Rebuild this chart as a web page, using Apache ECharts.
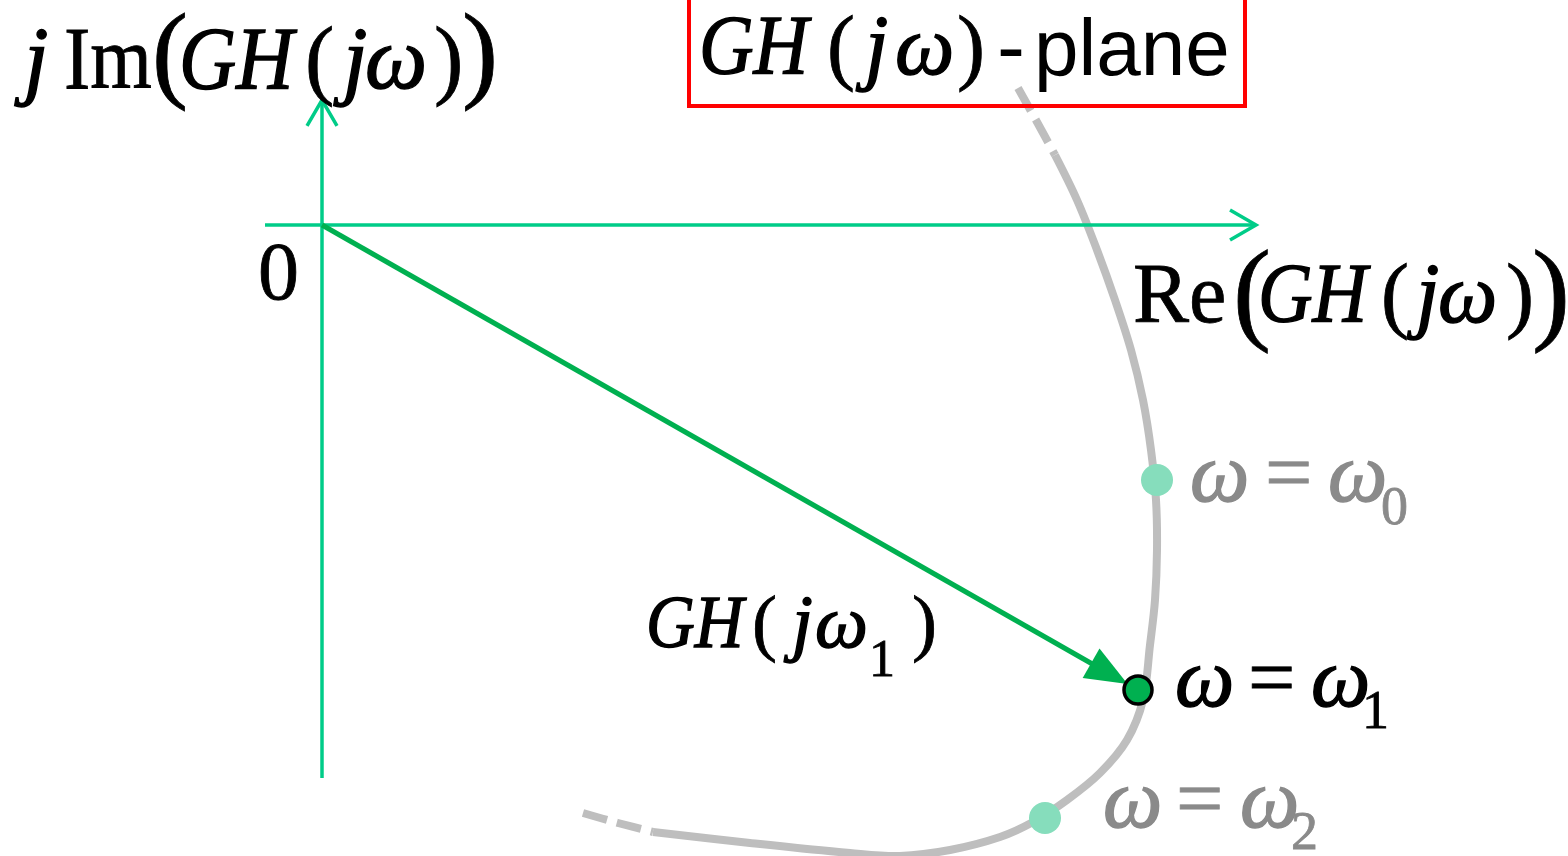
<!DOCTYPE html>
<html>
<head>
<meta charset="utf-8">
<script src="https://cdn.jsdelivr.net/npm/echarts@6/dist/echarts.min.js"></script>
<style>
  html, body { margin: 0; padding: 0; background: #ffffff; }
  #chart { width: 1568px; height: 856px; }
</style>
</head>
<body>
<div id="chart"></div>
<script>
// Polar (Nyquist-style) sketch of GH(jω) in the complex plane.

// Dashed lead-in of the locus at the top
const topDashRe = [6.96, 7.15, 7.33];
const topDashIm = [1.37, 1.03, 0.70];

// Solid part of the GH(jω) locus
const curveRe = [7.33, 7.55, 7.75, 7.93, 8.09, 8.21, 8.29, 8.34, 8.35, 8.33, 8.28, 8.21, 8.05, 7.78, 7.45, 7.11, 6.78, 6.28, 5.78, 5.28, 4.28, 3.31];
const curveIm = [0.70, 0.25, -0.25, -0.75, -1.25, -1.75, -2.25, -2.75, -3.25, -3.75, -4.20, -4.75, -5.15, -5.48, -5.75, -5.97, -6.12, -6.25, -6.31, -6.28, -6.18, -6.07];

// Dashed tail of the locus at the bottom
const bottomDashRe = [2.61, 2.96, 3.31];
const bottomDashIm = [-5.88, -5.98, -6.07];

// Marked frequencies on the locus
const freqNames = ['ω0', 'ω1', 'ω2'];
const freqRe = [8.35, 8.16, 7.23];
const freqIm = [-2.55, -4.65, -5.93];

// Drawn extent of the Re and Im axes
const axisRe = [-0.57, 9.34];
const axisIm = [-5.53, 1.25];

const zip = (a, b) => a.map((v, i) => [v, b[i]]);

const AXIS_COLOR = '#00CC88';
const VECTOR_COLOR = '#00B050';
const LOCUS_COLOR = '#BEBEBE';
const GRAY_TEXT = '#8a8a8a';
const SERIF = '"Liberation Serif", "Times New Roman", serif';
const SANS = '"Liberation Sans", Arial, sans-serif';

// One run of text placed on a baseline
function piece(t, x, base, size, kind, color, sx) {
  const family = kind === 'p' ? SANS : SERIF;
  const style = kind === 'i' ? 'italic' : 'normal';
  const fill = color || '#000';
  return {
    type: 'text',
    x: x,
    y: base - 0.34 * size,
    scaleX: sx || 1,
    z: 100,
    style: {
      text: t,
      font: style + ' normal ' + size + 'px ' + family,
      fill: fill,
      stroke: kind === 'p' ? null : fill,
      lineWidth: kind === 'i' ? 1.4 : 0.8,
      verticalAlign: 'middle',
      align: 'left'
    }
  };
}

// parts: [text, x, kind, baseline?, size?, scaleX?]
function label(parts, base, size, color) {
  return parts.map(p => piece(p[0], p[1], p[3] != null ? p[3] : base,
    p[4] || size, p[2], color, p[5]));
}

const NARROW = 0.9;

const texts = [].concat(
  // j Im(GH( jω))
  label([
    ['j', 24, 'i'], ['Im', 64, 'r', null, null, NARROW], ['(', 152, 'r', 96, 108],
    ['GH', 179, 'i', null, null, NARROW], ['(', 305, 'r'], ['j', 343, 'i'], ['ω', 365, 'i'],
    [')', 434, 'r'], [')', 462, 'r', 96, 108]
  ], 95, 88),
  // Re(GH( jω))
  label([
    ['Re', 1133, 'r'], ['(', 1233, 'r', 338, 114],
    ['GH', 1258, 'i', null, null, NARROW], ['(', 1381, 'r'], ['j', 1416, 'i'], ['ω', 1438, 'i'],
    [')', 1506, 'r'], [')', 1532, 'r', 338, 114]
  ], 328, 84),
  // GH( jω)-plane
  label([
    ['GH', 699, 'i', null, null, NARROW], ['(', 827, 'r'], ['j', 865, 'i'], ['ω', 895, 'i'],
    [')', 957, 'r'], ['-', 997, 'p'], ['plane', 1034, 'p', 80, 80]
  ], 80, 84),
  // origin
  label([['0', 258, 'r']], 305, 82),
  // GH( jω1)
  label([
    ['GH', 646, 'i', null, null, NARROW], ['(', 752, 'r'], ['j', 792, 'i'], ['ω', 815, 'i'],
    ['1', 869, 'r', 680, 52], [')', 912, 'r']
  ], 653, 75),
  // ω = ω1
  label([
    ['ω', 1175, 'i'], ['=', 1248, 'r'], ['ω', 1311, 'i'], ['1', 1362, 'r', 732, 54]
  ], 712, 84),
  // ω = ω0
  label([
    ['ω', 1190, 'i'], ['=', 1265, 'r'], ['ω', 1328, 'i'], ['0', 1381, 'r', 528, 54]
  ], 507, 84, GRAY_TEXT),
  // ω = ω2
  label([
    ['ω', 1103, 'i'], ['=', 1176, 'r'], ['ω', 1240, 'i'], ['2', 1291, 'r', 853, 54]
  ], 833, 84, GRAY_TEXT)
);

// Frame around the plane title
texts.push({
  type: 'rect',
  z: 90,
  shape: { x: 689, y: -6, width: 556, height: 112 },
  style: { fill: 'none', stroke: '#FF0000', lineWidth: 4 }
});

const chart = echarts.init(document.getElementById('chart'), null, { renderer: 'canvas' });

// A stretch of the locus drawn as one smooth stroke through its points
function locusSeries(name, re, im, dash, smooth) {
  return {
    name: name, type: 'custom', z: 2, clip: false,
    data: zip(re, im),
    renderItem: function (params, api) {
      if (params.dataIndex !== 0) return null;
      const pts = re.map((v, i) => api.coord([v, im[i]]));
      return {
        type: 'polyline',
        shape: { points: pts, smooth: smooth },
        style: {
          stroke: LOCUS_COLOR, lineWidth: 8, fill: 'none',
          lineDash: dash, lineCap: 'butt', lineJoin: 'round'
        }
      };
    }
  };
}

chart.setOption({
  animation: false,
  backgroundColor: '#ffffff',
  grid: { left: 0, right: 0, top: 0, bottom: 0 },
  xAxis: { type: 'value', min: -3.22, max: 12.46, show: false },
  yAxis: { type: 'value', min: -6.31, max: 2.25, show: false },
  series: [
    locusSeries('locus-top', topDashRe, topDashIm, [26, 10], 0.3),
    locusSeries('locus', curveRe, curveIm, null, 0.35),
    locusSeries('locus-bottom', bottomDashRe, bottomDashIm, [25, 10], 0.3),
    {
      // Re and Im axes with open arrow heads
      name: 'axes', type: 'custom', z: 3, clip: false,
      data: [[0, 0]],
      renderItem: function (params, api) {
        const xs = api.coord([axisRe[0], 0]), xe = api.coord([axisRe[1], 0]);
        const ys = api.coord([0, axisIm[0]]), ye = api.coord([0, axisIm[1]]);
        const len = 30, ang = Math.PI / 6;
        const st = { stroke: AXIS_COLOR, lineWidth: 3.5, fill: 'none', lineJoin: 'miter' };
        const chevron = (tip, dx, dy) => {
          const base = Math.atan2(-dy, -dx);
          return {
            type: 'polyline',
            shape: { points: [
              [tip[0] + len * Math.cos(base + ang), tip[1] + len * Math.sin(base + ang)],
              tip,
              [tip[0] + len * Math.cos(base - ang), tip[1] + len * Math.sin(base - ang)]
            ] },
            style: st
          };
        };
        return {
          type: 'group',
          children: [
            { type: 'line', shape: { x1: xs[0], y1: xs[1], x2: xe[0], y2: xe[1] }, style: st },
            { type: 'line', shape: { x1: ys[0], y1: ys[1], x2: ye[0], y2: ye[1] }, style: st },
            chevron(xe, 1, 0),
            chevron(ye, 0, -1)
          ]
        };
      }
    },
    {
      // Phasor GH(jω1) from the origin to the point on the locus
      name: 'vector', type: 'custom', z: 4, clip: false,
      data: [[freqRe[1], freqIm[1]]],
      renderItem: function (params, api) {
        const o = api.coord([0, 0]);
        const p = api.coord([api.value(0), api.value(1)]);
        const dx = p[0] - o[0], dy = p[1] - o[1];
        const d = Math.hypot(dx, dy);
        const ux = dx / d, uy = dy / d, nx = -uy, ny = ux;
        const tip = [p[0] - ux * 12, p[1] - uy * 12];
        const headLen = 42, headHalf = 17;
        const base = [tip[0] - ux * headLen, tip[1] - uy * headLen];
        return {
          type: 'group',
          children: [
            { type: 'line', shape: { x1: o[0], y1: o[1], x2: base[0] + ux * 4, y2: base[1] + uy * 4 },
              style: { stroke: VECTOR_COLOR, lineWidth: 5 } },
            { type: 'polygon', shape: { points: [
                tip,
                [base[0] + nx * headHalf, base[1] + ny * headHalf],
                [base[0] - nx * headHalf, base[1] - ny * headHalf]
              ] }, style: { fill: VECTOR_COLOR } }
          ]
        };
      }
    },
    {
      name: 'other frequencies', type: 'scatter', z: 5,
      data: [0, 2].map(i => ({ name: freqNames[i], value: [freqRe[i], freqIm[i]] })),
      symbol: 'circle', symbolSize: 32,
      itemStyle: { color: '#86DDBC', opacity: 1 }
    },
    {
      name: 'ω1', type: 'scatter', z: 6,
      data: [{ name: freqNames[1], value: [freqRe[1], freqIm[1]] }],
      symbol: 'circle', symbolSize: 28,
      itemStyle: { color: '#00B050', borderColor: '#000000', borderWidth: 3.5, opacity: 1 }
    }
  ],
  graphic: { elements: texts }
});
</script>
</body>
</html>
